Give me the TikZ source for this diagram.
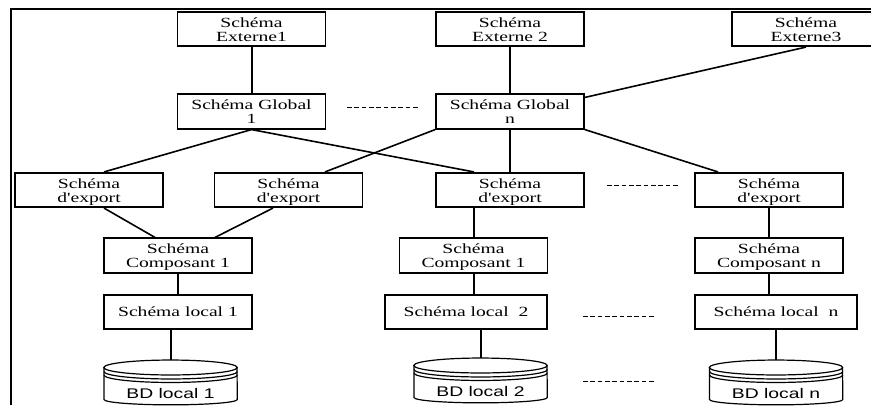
\documentclass[tikz,border=0pt]{standalone}
\usepackage{fontspec}
\setmainfont[FakeStretch=1.4,Ligatures=TeXOff]{Liberation Serif}
\newfontfamily\dbfont[FakeStretch=1.38]{Liberation Sans}
\usetikzlibrary{calc}
\newcommand{\twolines}[2]{\rule{0pt}{10.5pt}#1\\#2\rule[-2.5pt]{0pt}{2.5pt}}
\newcommand{\oneline}[1]{\rule[-2.5pt]{0pt}{12pt}#1}
\tikzset{
  x=0.75pt,y=-0.75pt,
  bx/.style={draw,line width=1.2pt,rectangle,inner sep=0pt,align=center,minimum height=25.9pt,
    font=\fontsize{10.5}{10.5}\selectfont},
  wa/.style={bx,minimum width=111pt},
  wb/.style={bx,minimum width=121.5pt},
  dbnode/.style={inner sep=0pt,minimum width=100pt,minimum height=33.75pt,font=\dbfont\fontsize{10.5}{10.5}\selectfont},
  link/.style={line width=1.2pt},
  vlink/.style={line width=1.5pt},
  dots/.style={line width=0.7pt,dash pattern=on 3.4pt off 2.1pt},
  frameline/.style={line width=1.6pt}
}
\newcommand{\dbshape}[1]{%
  \begin{scope}[shift={(#1.center)},line width=0.9pt]
    \draw (0,-15) ellipse [x radius=50pt,y radius=5.6pt];
    \draw (-66.5,-11) arc[start angle=180,end angle=360,x radius=50pt,y radius=5.6pt];
    \draw (-66.5,-7.5) arc[start angle=180,end angle=360,x radius=50pt,y radius=5.6pt];
    \draw (-66.5,-15) -- (-66.5,17) arc[start angle=180,end angle=360,x radius=50pt,y radius=4pt] -- (66.5,-15);
  \end{scope}}
\begin{document}
\begin{tikzpicture}
\useasboundingbox (0,0) rectangle (871,405);
\fill[white] (0,0) rectangle (871,405);
\coordinate (frameTL) at (11,9);
\coordinate (frameTR) at (871,9);
\coordinate (frameBL) at (11,405);
\draw[frameline] (frameBL) -- (frameTL) -- (frameTR);
% boxes
\node[wa] (E1) at (251.5,29) {\twolines{Schéma}{Externe1}};
\node[wa] (E2) at (510,29) {\twolines{Schéma}{Externe 2}};
\node[wa] (E3) at (806,29) {\twolines{Schéma}{Externe3}};
\node[wa] (G1) at (251.5,111.5) {\twolines{Schéma Global}{1}};
\node[wa] (Gn) at (510,111.5) {\twolines{Schéma Global}{n}};
\node[wa] (X1) at (89,190) {\twolines{Schéma}{d'export}};
\node[wa] (X2) at (288.5,190) {\twolines{Schéma}{d'export}};
\node[wa] (X3) at (510,190) {\twolines{Schéma}{d'export}};
\node[wa] (X4) at (769,190) {\twolines{Schéma}{d'export}};
\node[wa] (C1) at (178,255.5) {\twolines{Schéma}{Composant 1}};
\node[wa] (C2) at (473.5,255.5) {\twolines{Schéma}{Composant 1}};
\node[wa] (C3) at (769,255.5) {\twolines{Schéma}{Composant n}};
\node[wa] (L1) at (178,312) {\oneline{Schéma local 1}};
\node[wb] (L2) at (466,312) {\oneline{Schéma local~~2}};
\node[wb] (L3) at (776,312) {\oneline{Schéma local~~n}};
\node[dbnode] (D1) at (170.5,382.5) {\raisebox{-12pt}[0pt][0pt]{BD local 1}};
\node[dbnode] (D2) at (480.5,380.5) {\raisebox{-12pt}[0pt][0pt]{BD local 2}};
\node[dbnode] (D3) at (776,382.5) {\raisebox{-12pt}[0pt][0pt]{BD local n}};
\dbshape{D1}\dbshape{D2}\dbshape{D3}
% connectors
\draw[vlink] (E1) -- (G1);
\draw[vlink] (E2) -- (Gn);
\draw[link] ($(E3.south)$) -- ($(Gn.north east)+(0,4)$);
\draw[link] (G1.south) -- ($(X1.north)+(15,0)$);
\draw[link] (G1.south) -- ($(X3.north)+(-36,0)$);
\draw[link] (Gn.south west) -- ($(X2.north)+(36.5,0)$);
\draw[vlink] (Gn) -- (X3);
\draw[link] (Gn.south east) -- ($(X4.north)+(-51,0)$);
\draw[link] ($(X1.south)+(15,0)$) -- ($(C1.north)+(-23,0)$);
\draw[link] ($(X2.south)+(-15.5,0)$) -- ($(C1.north)+(37,0)$);
\draw[vlink] ($(X3.south)+(-36.5,0)$) -- (C2.north);
\draw[vlink] (X4) -- (C3);
\draw[vlink] (C1) -- (L1);
\draw[vlink] (C2.south) -- (C2.south |- L2.north);
\draw[vlink] (C3) -- (C3 |- L3.north);
\draw[vlink] (L1.south -| D1.north) -- ($(D1.north)+(0,0)$);
\draw[vlink] (L2.south -| D2.north) -- ($(D2.north)+(0,0)$);
\draw[vlink] (L3) -- ($(D3.north)$);
% ellipsis marks
\coordinate (a1) at (347,107); \coordinate (a2) at (420,107);
\coordinate (b1) at (607,185); \coordinate (b2) at (678,185);
\coordinate (c1) at (583,316); \coordinate (c2) at (656,316);
\coordinate (d1) at (583,381); \coordinate (d2) at (656,381);
\draw[dots] (a1) -- (a2);
\draw[dots] (b1) -- (b2);
\draw[dots] (c1) -- (c2);
\draw[dots] (d1) -- (d2);
\end{tikzpicture}
\end{document}
